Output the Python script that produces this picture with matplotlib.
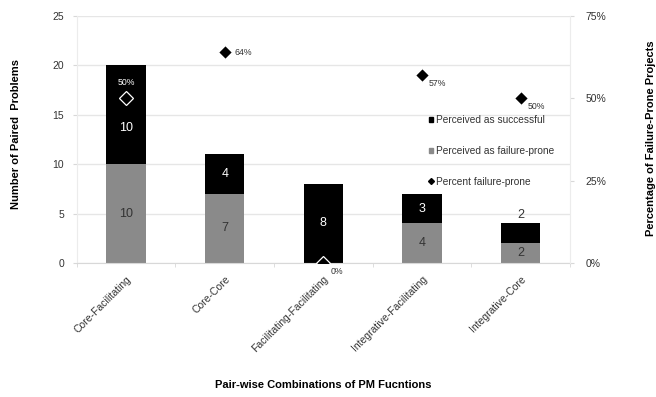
import matplotlib.pyplot as plt
import numpy as np
from matplotlib.lines import Line2D
from matplotlib.patches import Patch

plt.rcParams['font.family'] = ['Liberation Sans', 'DejaVu Sans']

# Pair-wise PM function combinations
categories = ['Core-Facilitating', 'Core-Core', 'Facilitating-Facilitating',
              'Integrative-Facilitating', 'Integrative-Core']
failure_prone = [10, 7, 0, 4, 2]
successful = [10, 4, 8, 3, 2]
pct_failure = [50, 64, 0, 57, 50]

GRAY = '#8a8a8a'
AXIS = '#d8d8d8'
TXT = '#333333'

fig = plt.figure(figsize=(6.56, 3.97), dpi=100)
ax = fig.add_axes([0.117, 0.3375, 0.752, 0.6225])
x = np.arange(len(categories))
width = 0.4

ax.bar(x, failure_prone, width, color=GRAY, zorder=2)
ax.bar(x, successful, width, bottom=failure_prone, color='black', zorder=2)

# segment value labels
for i in range(len(x)):
    f, s = failure_prone[i], successful[i]
    if f > 0:
        ax.text(x[i], f / 2, str(f), ha='center', va='center', fontsize=9,
                color=TXT, zorder=4)
    if s >= 3:
        # keep clear of the percent marker on the tallest bar
        yy = f + s * 0.37 if f + s >= 20 else f + s / 2
        ax.text(x[i], yy, str(s), ha='center', va='center', fontsize=9,
                color='white', zorder=4)
    else:
        ax.text(x[i], f + s + 0.3, str(s), ha='center', va='bottom', fontsize=9,
                color=TXT, zorder=4)

ax.set_xlim(-0.5, len(x) - 0.5)
ax.set_ylim(0, 25)
ax.set_yticks(np.arange(0, 26, 5))
ax.yaxis.grid(True, color='#e6e6e6', linewidth=1, zorder=0)
ax.set_axisbelow(True)
ax.tick_params(axis='y', length=3, color=AXIS, labelsize=7.5, pad=6,
               labelcolor=TXT)
ax.set_xticks(x)
ax.set_xticklabels(categories, rotation=45, ha='right', va='top',
                   rotation_mode='anchor', fontsize=7.5, color=TXT)
ax.tick_params(axis='x', length=0, pad=8)
ax.set_xticks(np.arange(-0.5, len(x), 1), minor=True)
ax.tick_params(axis='x', which='minor', length=3, color=AXIS)
for side in ['top', 'right']:
    ax.spines[side].set_visible(False)
ax.spines['left'].set_color('#ececec')
ax.spines['bottom'].set_color(AXIS)

# axis titles
fig.text(0.024, 0.662, 'Number of Paired  Problems', fontsize=8,
         fontweight='bold', rotation=90, ha='center', va='center')
fig.text(0.992, 0.652, 'Percentage of Failure-Prone Projects', fontsize=8,
         fontweight='bold', rotation=90, ha='center', va='center')
fig.text(0.492, 0.030, 'Pair-wise Combinations of PM Fucntions', fontsize=8,
         fontweight='bold', ha='center', va='center')

# percent axis on the right
ax2 = ax.twinx()
ax2.set_ylim(0, 75)
ax2.set_yticks([0, 25, 50, 75])
ax2.set_yticklabels(['0%', '25%', '50%', '75%'])
ax2.tick_params(axis='y', length=3, color=AXIS, labelsize=7.5,
                labelcolor=TXT, pad=8)
for side in ['top', 'left', 'bottom']:
    ax2.spines[side].set_visible(False)
ax2.spines['right'].set_color('#ececec')

ax2.plot(x, pct_failure, linestyle='none', marker='D', markersize=7,
         color='black', markeredgecolor='white', markeredgewidth=0.9,
         zorder=5)
for i, p in enumerate(pct_failure):
    lbl = f'{p}%'
    if i == 0:
        ax2.annotate(lbl, (x[i], p), xytext=(0, 8), textcoords='offset points',
                     ha='center', va='bottom', fontsize=6.3, color='white')
    elif i == 1:
        ax2.annotate(lbl, (x[i], p), xytext=(7, 0), textcoords='offset points',
                     ha='left', va='center', fontsize=6.3, color=TXT)
    else:
        ax2.annotate(lbl, (x[i], p), xytext=(5, -6), textcoords='offset points',
                     ha='left', va='center', fontsize=6.3, color=TXT)

handles = [Patch(color='black'), Patch(color=GRAY),
           Line2D([], [], linestyle='none', marker='D', markersize=3,
                  color='black')]
labels = ['Perceived as successful', 'Perceived as failure-prone',
          'Percent failure-prone']
ax2.legend(handles, labels, loc='upper left', bbox_to_anchor=(0.705, 0.615),
           frameon=False, fontsize=7.3, handlelength=0.45, handleheight=0.45,
           handletextpad=0.3, labelspacing=2.05, borderaxespad=0,
           labelcolor=TXT)

fig.savefig('out.png', dpi=100)
